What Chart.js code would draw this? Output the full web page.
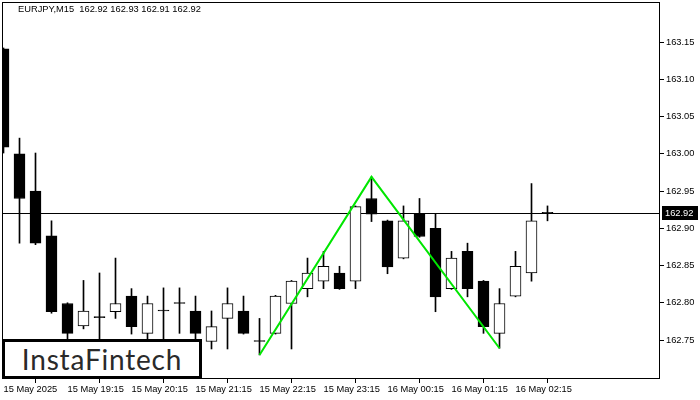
<!DOCTYPE html>
<html>
<head>
<meta charset="utf-8">
<script src="https://cdn.jsdelivr.net/npm/chart.js@4.4.1/dist/chart.umd.min.js"></script>
<style>
  html, body { margin: 0; padding: 0; background: #fff; }
  #wrap { position: relative; width: 700px; height: 400px; }
  #title { position: absolute; left: 18px; top: 4px; font: 9.3px 'Liberation Sans', Arial, sans-serif; color: #000; white-space: pre; }
  #logo { position: absolute; left: 2px; top: 339px; width: 200px; height: 40px; box-sizing: border-box;
          border: 3px solid #000; background: #fff; font: 28px Lato, sans-serif; color: #2a2a2a;
          text-align: center; line-height: 34px; letter-spacing: 0.8px; }
</style>
</head>
<body>
<div id="wrap">
  <canvas id="c" width="700" height="400"></canvas>
  <div id="title">EURJPY,M15  162.92 162.93 162.91 162.92</div>
  <div id="logo">InstaFintech</div>
</div>
<script>
// EURJPY M15 candles, 15 May 18:15 -> 16 May 02:45
const opens  = [163.141, 163.000, 162.950, 162.890, 162.799, 162.769, 162.780, 162.788, 162.809, 162.759,
                162.789, 162.799, 162.789, 162.748, 162.779, 162.789, 162.748, 162.759, 162.799, 162.819,
                162.829, 162.840, 162.829, 162.940, 162.910, 162.860, 162.919, 162.900, 162.819, 162.869,
                162.829, 162.759, 162.809, 162.840, 162.920];
const highs  = [163.142, 163.021, 163.001, 162.910, 162.800, 162.830, 162.840, 162.860, 162.819, 162.809,
                162.820, 162.820, 162.809, 162.789, 162.820, 162.809, 162.779, 162.810, 162.830, 162.860,
                162.869, 162.849, 162.930, 162.969, 162.911, 162.930, 162.940, 162.919, 162.869, 162.880,
                162.830, 162.819, 162.869, 162.960, 162.930];
const lows   = [163.001, 162.880, 162.878, 162.786, 162.748, 162.765, 162.745, 162.779, 162.758, 162.748,
                162.745, 162.759, 162.750, 162.738, 162.738, 162.758, 162.730, 162.758, 162.738, 162.808,
                162.819, 162.818, 162.819, 162.909, 162.839, 162.859, 162.888, 162.788, 162.818, 162.808,
                162.759, 162.739, 162.808, 162.829, 162.910];
const closes = [163.009, 162.940, 162.880, 162.788, 162.759, 162.789, 162.780, 162.799, 162.768, 162.799,
                162.789, 162.799, 162.759, 162.768, 162.799, 162.759, 162.748, 162.809, 162.829, 162.840,
                162.849, 162.819, 162.929, 162.919, 162.848, 162.910, 162.889, 162.808, 162.860, 162.819,
                162.768, 162.799, 162.849, 162.910, 162.920];

const tickIdx = [0, 4, 8, 12, 16, 20, 24, 28, 32];
const tickLabels = ['15 May 2025', '15 May 19:15', '15 May 20:15', '15 May 21:15', '15 May 22:15',
                    '15 May 23:15', '16 May 00:15', '16 May 01:15', '16 May 02:15'];
const yTicks = [162.75, 162.80, 162.85, 162.90, 162.95, 163.00, 163.05, 163.10, 163.15];
const lastPrice = 162.92;

// double top pattern
const patternIdx = [16, 23, 31];
const patternPrice = [162.730, 162.969, 162.739];

const bodies = opens.map((o, i) => ({ x: i, y: [o, closes[i]] }));
const wicks = lows.map((l, i) => ({ x: i, y: [l, highs[i]] }));
const pattern = patternIdx.map((x, i) => ({ x: x, y: patternPrice[i] }));

const fontFamily = "'Liberation Sans', Arial, sans-serif";
Chart.defaults.font.family = fontFamily;
Chart.defaults.font.size = 9.3;
Chart.defaults.color = '#000';

const mt4Frame = {
  id: 'mt4Frame',
  beforeDatasetsDraw(chart) {
    const { ctx, chartArea: a } = chart;
    const y = Math.round(chart.scales.y.getPixelForValue(lastPrice)) + 0.5;
    ctx.save();
    ctx.strokeStyle = '#000';
    ctx.lineWidth = 1;
    ctx.beginPath();
    ctx.moveTo(a.left, y);
    ctx.lineTo(a.right, y);
    ctx.stroke();
    ctx.restore();
  },
  afterDraw(chart) {
    const { ctx, chartArea: a } = chart;
    ctx.save();
    ctx.strokeStyle = '#000';
    ctx.lineWidth = 1;
    ctx.strokeRect(a.left + 0.5, a.top + 0.5, a.right - a.left - 1, a.bottom - a.top - 1);
    const y = Math.round(chart.scales.y.getPixelForValue(lastPrice));
    ctx.fillStyle = '#000';
    ctx.fillRect(a.right + 2, y - 7, 36, 14);
    ctx.fillStyle = '#fff';
    ctx.font = '9.3px ' + fontFamily;
    ctx.textBaseline = 'middle';
    ctx.fillText(lastPrice.toFixed(2), a.right + 5, y + 0.5);
    ctx.restore();
  }
};

new Chart(document.getElementById('c'), {
  type: 'bar',
  data: {
    datasets: [
      {
        type: 'line',
        data: pattern,
        borderColor: '#00e600',
        borderWidth: 2,
        pointRadius: 0,
        fill: false,
        order: 0
      },
      {
        data: bodies,
        grouped: false,
        barThickness: 11,
        minBarLength: 1,
        borderWidth: 1,
        borderSkipped: false,
        borderColor: '#000',
        backgroundColor: ctx => closes[ctx.dataIndex] > opens[ctx.dataIndex] ? '#fff' : '#000',
        order: 1
      },
      {
        data: wicks,
        grouped: false,
        barThickness: 1,
        borderWidth: 0,
        backgroundColor: '#000',
        order: 2
      }
    ]
  },
  options: {
    responsive: false,
    animation: false,
    layout: { padding: { left: 2, top: 2, right: 0, bottom: 0 } },
    plugins: { legend: { display: false }, tooltip: { enabled: false } },
    scales: {
      x: {
        type: 'linear',
        offset: false,
        min: -0.09375,
        max: 41.03125,
        afterBuildTicks: s => { s.ticks = tickIdx.map(v => ({ value: v })); },
        afterFit: s => { s.height = 21; s.paddingLeft = 0; s.paddingRight = 0; },
        grid: { drawOnChartArea: false, drawTicks: true, tickLength: 4, color: '#000' },
        border: { display: false },
        ticks: {
          autoSkip: false,
          maxRotation: 0,
          align: 'start',
          padding: 1,
          callback: (v, i) => tickLabels[i]
        }
      },
      y: {
        position: 'right',
        min: 162.6977,
        max: 163.2037,
        afterBuildTicks: s => { s.ticks = yTicks.map(v => ({ value: v })); },
        afterFit: s => { s.width = 40; s.paddingTop = 0; s.paddingBottom = 0; },
        grid: { drawOnChartArea: false, drawTicks: true, tickLength: 4, color: '#000' },
        border: { display: false },
        ticks: {
          padding: 2,
          callback: v => Number(v).toFixed(2)
        }
      }
    }
  },
  plugins: [mt4Frame]
});
</script>
</body>
</html>
